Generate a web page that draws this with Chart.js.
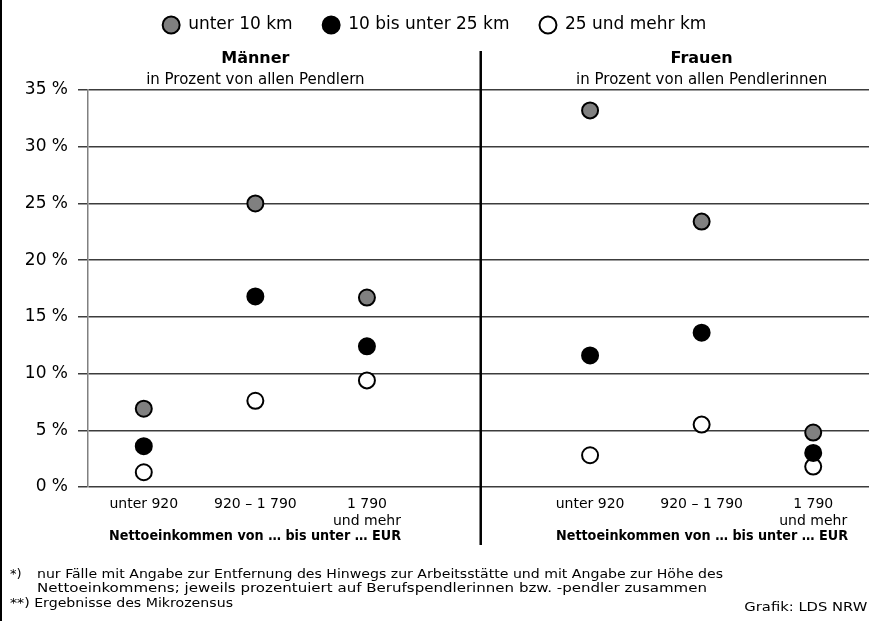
<!DOCTYPE html>
<html lang="de">
<head>
<meta charset="utf-8">
<script src="https://cdn.jsdelivr.net/npm/chart.js@4.4.1/dist/chart.umd.min.js"></script>
<style>
  html, body { margin: 0; padding: 0; background: #fff; }
  #wrap { position: relative; width: 869px; height: 621px; overflow: hidden; font-family: "DejaVu Sans", Verdana, sans-serif; color: #000; }
  #chartBox { position: absolute; left: 0; top: 0; width: 869px; height: 621px; }
  #leftLine { position: absolute; left: 0; top: 0; width: 2px; height: 621px; background: #000; }
  .ctr { position: absolute; white-space: nowrap; line-height: 1; transform: translate(-50%, -50%); }
  .lft { position: absolute; white-space: nowrap; line-height: 1; transform-origin: left center; }
  .rgt { position: absolute; white-space: nowrap; line-height: 1; transform-origin: right center; }
  .ptitle { font-weight: bold; font-size: 16px; }
  .psub { font-size: 15px; }
  .xtitle { font-weight: bold; font-size: 14px; }
  .note { font-size: 13px; }
</style>
</head>
<body>
<div id="wrap">
  <div id="chartBox"><canvas id="grafik"></canvas></div>
  <div id="leftLine"></div>

  <div class="ctr ptitle" id="tMaenner" style="top:58px">Männer</div>
  <div class="ctr psub" id="sMaenner" style="top:79px">in Prozent von allen Pendlern</div>
  <div class="ctr ptitle" id="tFrauen" style="top:58px">Frauen</div>
  <div class="ctr psub" id="sFrauen" style="top:79px">in Prozent von allen Pendlerinnen</div>

  <div class="ctr xtitle" id="xMaenner" style="top:535px" data-w="292">Nettoeinkommen von … bis unter … EUR</div>
  <div class="ctr xtitle" id="xFrauen" style="top:535px" data-w="292">Nettoeinkommen von … bis unter … EUR</div>

  <div class="lft note" style="left:10px; top:567px">*)</div>
  <div class="lft note" style="left:37px; top:567px" data-w="686">nur Fälle mit Angabe zur Entfernung des Hinwegs zur Arbeitsstätte und mit Angabe zur Höhe des</div>
  <div class="lft note" style="left:37px; top:581px" data-w="670">Nettoeinkommens; jeweils prozentuiert auf Berufspendlerinnen bzw. -pendler zusammen</div>
  <div class="lft note" style="left:10px; top:596px" data-w="223">**) Ergebnisse des Mikrozensus</div>
  <div class="rgt note" style="right:2px; top:600px" data-w="123">Grafik: LDS NRW</div>
</div>

<script>
var FONT = '"DejaVu Sans", Verdana, sans-serif';

// Gruppen: Männer (0..2) und Frauen (4..6), Trennlinie dazwischen
var positionen = [0, 1, 2, 4, 5, 6];
var einkommen = [['unter 920'], ['920 – 1 790'], ['1 790', 'und mehr'], ['unter 920'], ['920 – 1 790'], ['1 790', 'und mehr']];
var yTicks = [0, 5, 10, 15, 20, 25, 30, 35];

var unter10km = [6.9, 25.0, 16.7, 33.2, 23.4, 4.8];
var bis25km = [3.6, 16.8, 12.4, 11.6, 13.6, 3.0];
var ab25km = [1.3, 7.6, 9.4, 2.8, 5.5, 1.8];

var TRENNER = 3.02;

function punkte(werte) {
    return positionen.map(function (x, i) { return { x: x, y: werte[i] }; });
}

function serie(label, werte, farbe) {
    return {
        label: label,
        data: punkte(werte),
        backgroundColor: farbe,
        borderColor: '#000',
        borderWidth: 2,
        pointRadius: 8,
        pointHoverRadius: 8,
        pointStyle: 'circle'
    };
}

var trennlinie = {
    id: 'trennlinie',
    afterDraw: function (chart) {
        var ctx = chart.ctx;
        var x = chart.scales.x.getPixelForValue(TRENNER);
        ctx.save();
        ctx.strokeStyle = '#000';
        ctx.lineWidth = 2.5;
        ctx.beginPath();
        ctx.moveTo(x, 51);
        ctx.lineTo(x, 545);
        ctx.stroke();
        ctx.restore();
    }
};

function ohnePadding(s) {
    s.paddingLeft = 0;
    s.paddingRight = 0;
}

var chart = new Chart(document.getElementById('grafik').getContext('2d'), {
    type: 'scatter',
    data: {
        datasets: [
            serie('unter 10 km', unter10km, '#808080'),
            serie('10 bis unter 25 km', bis25km, '#000'),
            serie('25 und mehr km', ab25km, '#fff')
        ]
    },
    options: {
        responsive: true,
        maintainAspectRatio: false,
        animation: false,
        layout: { autoPadding: false, padding: { top: -13.5, left: 0, right: 0, bottom: 0 } },
        plugins: {
            legend: {
                position: 'top',
                labels: {
                    usePointStyle: true,
                    boxWidth: 17,
                    boxHeight: 12,
                    padding: 30,
                    color: '#000',
                    font: { family: FONT, size: 17 }
                }
            },
            tooltip: { enabled: false }
        },
        scales: {
            x: {
                type: 'linear',
                min: -0.5,
                max: 6.5,
                afterBuildTicks: function (s) {
                    s.ticks = positionen.map(function (v) { return { value: v }; });
                },
                afterFit: function (s) { s.height = 621 - 487; ohnePadding(s); },
                ticks: {
                    autoSkip: false,
                    maxRotation: 0,
                    padding: 1,
                    color: '#000',
                    font: { family: FONT, size: 14 },
                    callback: function (v) {
                        var i = positionen.indexOf(v);
                        return i >= 0 ? einkommen[i] : '';
                    }
                },
                grid: { display: false },
                border: { display: false }
            },
            xOben: {
                type: 'linear',
                position: 'top',
                min: -0.5,
                max: 6.5,
                afterFit: function (s) { s.height = 90 - 43.5; ohnePadding(s); },
                ticks: { display: false },
                grid: { display: false },
                border: { display: false }
            },
            y: {
                min: 0,
                max: 35,
                afterBuildTicks: function (s) {
                    s.ticks = yTicks.map(function (v) { return { value: v }; });
                },
                afterFit: function (s) { s.width = 88; },
                ticks: {
                    padding: 10,
                    color: '#000',
                    font: { family: FONT, size: 17 },
                    callback: function (v) { return v + ' %'; }
                },
                grid: { color: '#3c3c3c', lineWidth: 1.5, tickLength: 10, drawTicks: true },
                border: { display: true, color: '#808080', width: 1.5 }
            }
        }
    },
    plugins: [trennlinie]
});

// Überschriften an den Gruppenmitten ausrichten
var xs = chart.scales.x;
['tMaenner', 'sMaenner', 'xMaenner'].forEach(function (id) {
    document.getElementById(id).style.left = xs.getPixelForValue(1) + 'px';
});
['tFrauen', 'sFrauen', 'xFrauen'].forEach(function (id) {
    document.getElementById(id).style.left = xs.getPixelForValue(5) + 'px';
});

// schmale Schrift wie im Original: auf Zielbreite stauchen
document.querySelectorAll('[data-w]').forEach(function (el) {
    var w = el.getBoundingClientRect().width;
    var k = parseFloat(el.getAttribute('data-w')) / w;
    if (el.classList.contains('ctr')) {
        el.style.transform = 'translate(-50%, -50%) scaleX(' + k + ')';
    } else {
        el.style.transform = 'scaleX(' + k + ')';
    }
});
</script>
</body>
</html>
